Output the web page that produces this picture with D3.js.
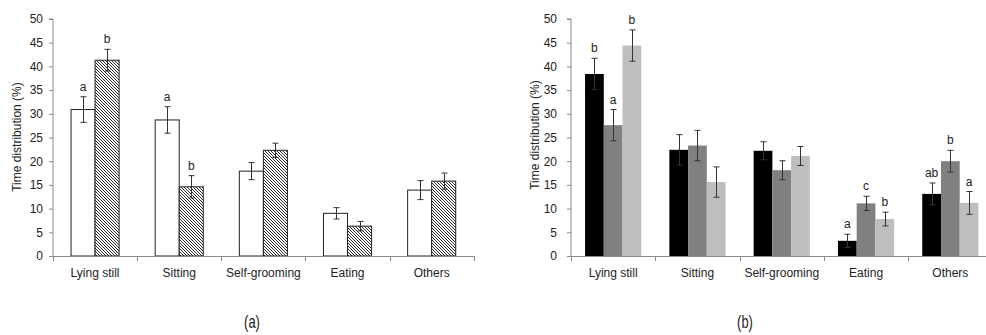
<!DOCTYPE html>
<html>
<head>
<meta charset="utf-8">
<script src="https://cdn.jsdelivr.net/npm/d3@7"></script>
<style>
  html, body { margin: 0; padding: 0; background: #fff; }
  svg { display: block; }
  text { font-family: "Liberation Sans", Arial, sans-serif; }
</style>
</head>
<body>
<svg id="chart" width="986" height="335"></svg>
<script>
// ---------- data ----------
const categories = ["Lying still", "Sitting", "Self-grooming", "Eating", "Others"];
const yTicks = [0, 5, 10, 15, 20, 25, 30, 35, 40, 45, 50];

// panel (a): two groups
const aSeries = ["open", "hatched"];
const aOpen      = [30.9, 28.7, 17.9, 9.0, 13.9];
const aOpenErr   = [2.7, 2.8, 1.8, 1.2, 2.0];
const aOpenSig   = ["a", "a", "", "", ""];
const aHatch     = [41.3, 14.6, 22.3, 6.3, 15.8];
const aHatchErr  = [2.3, 2.35, 1.5, 1.0, 1.7];
const aHatchSig  = ["b", "b", "", "", ""];

// panel (b): three groups
const bSeries = ["black", "gray", "light"];
const bBlack     = [38.4, 22.4, 22.2, 3.2, 13.1];
const bBlackErr  = [3.3, 3.2, 1.9, 1.4, 2.3];
const bBlackSig  = ["b", "", "", "a", "ab"];
const bGray      = [27.6, 23.3, 18.1, 11.1, 20.0];
const bGrayErr   = [3.3, 3.2, 2.0, 1.5, 2.3];
const bGraySig   = ["a", "", "", "c", "b"];
const bLight     = [44.4, 15.6, 21.1, 7.8, 11.2];
const bLightErr  = [3.3, 3.2, 2.0, 1.45, 2.4];
const bLightSig  = ["b", "", "", "b", "a"];

const panelLabels = ["(a)", "(b)"];

// ---------- drawing ----------
const svg = d3.select("#chart");

const defs = svg.append("defs");
const pat = defs.append("pattern")
  .attr("id", "hatch")
  .attr("patternUnits", "userSpaceOnUse")
  .attr("width", 3).attr("height", 3);
pat.append("rect").attr("width", 3).attr("height", 3).attr("fill", "#fff");
[0, 1, 2].forEach(k => {
  pat.append("rect").attr("x", k).attr("y", k).attr("width", 1).attr("height", 1)
    .attr("fill", "#2a2a2a").attr("shape-rendering", "crispEdges");
});

const AXIS = "#8a8a8a";
const TXT = "#222";

function drawPanel(opt) {
  const g = svg.append("g");
  const y = d3.scaleLinear().domain([0, 50]).range([256, 19]);
  const x0 = d3.scaleBand().domain(categories).range([opt.left, opt.left + opt.band * 5]).padding(0);
  const x1 = d3.scaleBand().domain(opt.series.map(s => s.key))
    .range([0, x0.bandwidth()]).paddingInner(0).paddingOuter(0.75);

  // y axis
  const ya = g.append("g").attr("transform", `translate(${opt.left},0)`)
    .call(d3.axisLeft(y).tickValues(yTicks).tickSize(4).tickPadding(opt.tickPad));
  ya.select(".domain").attr("stroke", AXIS).attr("d", `M-4,${y(50)}H0V${y(0)}`);
  ya.selectAll(".tick line").attr("stroke", AXIS);
  ya.selectAll(".tick text").attr("fill", TXT).style("font-size", "12px")
    .style("font-family", '"Liberation Sans", Arial, sans-serif');

  // y label
  g.append("text")
    .attr("transform", `translate(${opt.ylabX},${opt.ylabY}) rotate(-90)`)
    .attr("text-anchor", "middle")
    .attr("fill", TXT).style("font-size", "12px")
    .text("Time distribution (%)");

  // bars
  opt.series.forEach(s => {
    categories.forEach((c, i) => {
      const v = s.values[i], e = s.err[i];
      const bx = x0(c) + x1(s.key), bw = x1.bandwidth();
      g.append("rect")
        .attr("x", bx).attr("y", y(v))
        .attr("width", bw).attr("height", y(0) - y(v))
        .attr("fill", s.fill)
        .attr("stroke", s.stroke || "none")
        .attr("stroke-width", s.stroke ? 1 : 0);
      const cx = Math.round(bx + bw / 2) + 0.5;
      const capW = 3;
      g.append("path")
        .attr("d", `M${cx},${y(v + e)}V${y(v - e)}M${cx - capW},${y(v + e)}H${cx + capW}M${cx - capW},${y(v - e)}H${cx + capW}`)
        .attr("stroke", "#333").attr("stroke-width", 1).attr("fill", "none");
      if (s.sig[i]) {
        g.append("text")
          .attr("x", bx + bw / 2).attr("y", y(v + e) - 6)
          .attr("text-anchor", "middle")
          .attr("fill", TXT).style("font-size", "12px")
          .text(s.sig[i]);
      }
    });
  });

  // x axis
  const xa = g.append("g").attr("transform", `translate(0,${y(0)})`)
    .call(d3.axisBottom(x0).tickSize(0).tickPadding(12));
  xa.select(".domain").remove();
  xa.selectAll(".tick text").attr("fill", TXT).style("font-size", "12px")
    .style("font-family", '"Liberation Sans", Arial, sans-serif');
  const bounds = categories.map(c => x0(c)).concat([x0.range()[1]]);
  g.append("line").attr("x1", opt.left).attr("x2", x0.range()[1])
    .attr("y1", y(0) + 0.5).attr("y2", y(0) + 0.5).attr("stroke", AXIS);
  g.selectAll(".xb").data(bounds).enter().append("line")
    .attr("x1", d => Math.round(d) + 0.5).attr("x2", d => Math.round(d) + 0.5)
    .attr("y1", y(0)).attr("y2", y(0) + 5).attr("stroke", AXIS);

  // panel label (condensed look)
  g.append("text")
    .attr("transform", `translate(${opt.plX},328) scale(0.72,1)`)
    .attr("text-anchor", "middle")
    .attr("fill", TXT)
    .style("font-family", '"Liberation Sans", Arial, sans-serif')
    .style("font-size", "18px")
    .text(opt.panel);
}

drawPanel({
  left: 53, band: 84.15, tickPad: 6, ylabX: 21, ylabY: 137, plX: 252, panel: panelLabels[0],
  series: [
    { key: aSeries[0], values: aOpen, err: aOpenErr, sig: aOpenSig, fill: "#fff", stroke: "#222" },
    { key: aSeries[1], values: aHatch, err: aHatchErr, sig: aHatchSig, fill: "url(#hatch)", stroke: "#222" }
  ]
});

drawPanel({
  left: 571, band: 84.3, tickPad: 10, ylabX: 539, ylabY: 135, plX: 745, panel: panelLabels[1],
  series: [
    { key: bSeries[0], values: bBlack, err: bBlackErr, sig: bBlackSig, fill: "#000" },
    { key: bSeries[1], values: bGray, err: bGrayErr, sig: bGraySig, fill: "#7f8080" },
    { key: bSeries[2], values: bLight, err: bLightErr, sig: bLightSig, fill: "#bebebe" }
  ]
});
</script>
</body>
</html>
